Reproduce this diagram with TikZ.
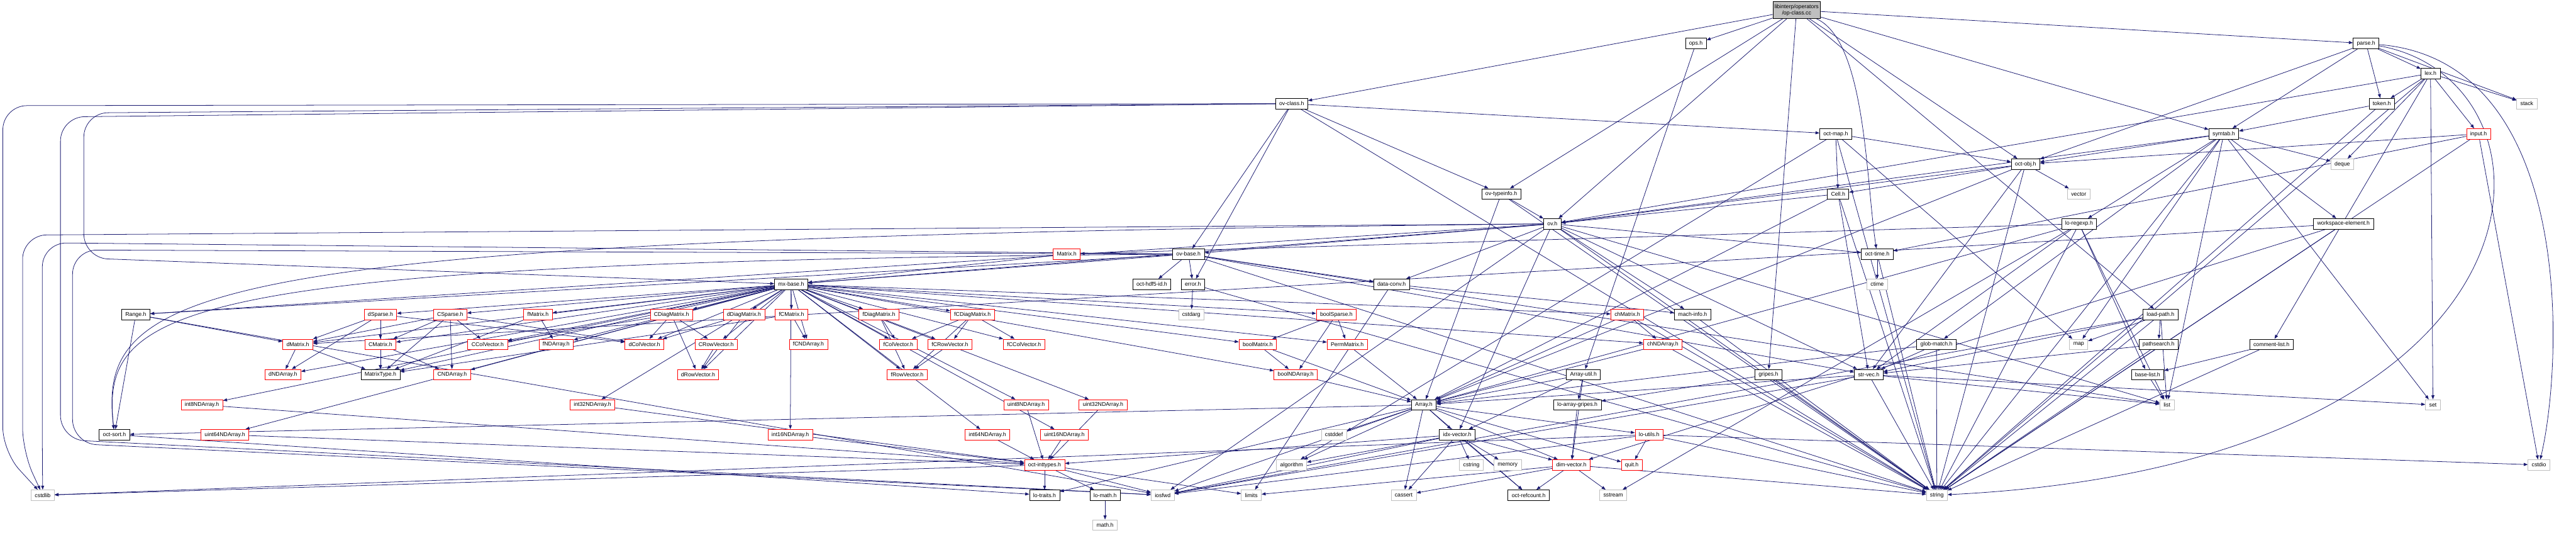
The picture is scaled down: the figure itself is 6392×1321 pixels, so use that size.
\documentclass[tikz,border=0pt]{standalone}
\usepackage{fontspec}
\setmainfont{Liberation Sans}
\usepackage{xcolor}
\usepackage{tikz}
\usetikzlibrary{arrows.meta, backgrounds}
\definecolor{edgeblue}{HTML}{191970}
\definecolor{sysgray}{HTML}{BFBFBF}
\tikzset{
    dep/.style={draw=edgeblue, line width=1.2pt, -{Triangle[length=10pt, width=7.5pt]}},
    filebox/.style={draw, rectangle, line width=1.2pt, fill=white, font=\fontsize{13.7}{16}\selectfont, minimum height=26pt, inner xsep=9.2pt, inner ysep=2pt},
    redbox/.style={filebox, draw=red},
    sysbox/.style={filebox, draw=sysgray},
    rootbox/.style={filebox, fill=sysgray, align=center, minimum height=41pt, inner xsep=4pt}
}

\begin{document}
\begin{tikzpicture}[x=1pt, y=-1pt]
    \useasboundingbox (0,0) rectangle (6392,1321);

    \node (root) [rootbox] at (4458,25) {libinterp/operators\\/op-class.cc};
    \node (ops) [filebox] at (4208,108) {ops.h};
    \node (parse) [filebox] at (5871,108) {parse.h};
    \node (lex) [filebox] at (6031,182) {lex.h};
    \node (ovclass) [filebox] at (3205,257) {ov-class.h};
    \node (token) [filebox] at (5910,257) {token.h};
    \node (stack) [sysbox] at (6270,257) {stack};
    \node (octmap) [filebox] at (4555,332) {oct-map.h};
    \node (symtab) [filebox] at (5518,332) {symtab.h};
    \node (input) [redbox] at (6150,332) {input.h};
    \node (octobj) [filebox] at (5026,407) {oct-obj.h};
    \node (deque) [sysbox] at (5812,407) {deque};
    \node (ovtypeinfo) [filebox] at (3725,481) {ov-typeinfo.h};
    \node (cell) [filebox] at (4561,481) {Cell.h};
    \node (vector) [sysbox] at (5158,481) {vector};
    \node (ov) [filebox] at (3852,555) {ov.h};
    \node (loregexp) [filebox] at (5159,555) {lo-regexp.h};
    \node (wselem) [filebox] at (5815,555) {workspace-element.h};
    \node (matrix) [redbox] at (2647,630) {Matrix.h};
    \node (ovbase) [filebox] at (2949,630) {ov-base.h};
    \node (octtime) [filebox] at (4658,630) {oct-time.h};
    \node (mxbase) [filebox] at (1963,705) {mx-base.h};
    \node (hdfid) [filebox] at (2858,705) {oct-hdf5-id.h};
    \node (error) [filebox] at (2960,705) {error.h};
    \node (dataconv) [filebox] at (3453,705) {data-conv.h};
    \node (ctime) [sysbox] at (4658,705) {ctime};
    \node (range) [filebox] at (337,780) {Range.h};
    \node (dsparse) [redbox] at (944,780) {dSparse.h};
    \node (csparse) [redbox] at (1117,780) {CSparse.h};
    \node (fmatrix) [redbox] at (1335,780) {fMatrix.h};
    \node (cdiag) [redbox] at (1666,780) {CDiagMatrix.h};
    \node (ddiag) [redbox] at (1846,780) {dDiagMatrix.h};
    \node (fcmatrix) [redbox] at (1964,780) {fCMatrix.h};
    \node (fdiag) [redbox] at (2181,780) {fDiagMatrix.h};
    \node (fcdiag) [redbox] at (2413,780) {fCDiagMatrix.h};
    \node (cstdarg) [sysbox] at (2956,780) {cstdarg};
    \node (boolsparse) [redbox] at (3316,780) {boolSparse.h};
    \node (chmatrix) [redbox] at (4038,780) {chMatrix.h};
    \node (machinfo) [filebox] at (4200,780) {mach-info.h};
    \node (loadpath) [filebox] at (5361,780) {load-path.h};
    \node (dmatrix) [redbox] at (739,854) {dMatrix.h};
    \node (cmatrix) [redbox] at (944,854) {CMatrix.h};
    \node (ccolvec) [redbox] at (1210,854) {CColVector.h};
    \node (fndarray) [redbox] at (1380,854) {fNDArray.h};
    \node (dcolvec) [redbox] at (1599,854) {dColVector.h};
    \node (crowvec) [redbox] at (1777,854) {CRowVector.h};
    \node (fcndarray) [redbox] at (2006,854) {fCNDArray.h};
    \node (fcolvec) [redbox] at (2229,854) {fColVector.h};
    \node (fcrowvec) [redbox] at (2357,854) {fCRowVector.h};
    \node (fccolvec) [redbox] at (2541,854) {fCColVector.h};
    \node (boolmatrix) [redbox] at (3121,854) {boolMatrix.h};
    \node (permmatrix) [redbox] at (3343,854) {PermMatrix.h};
    \node (chndarray) [redbox] at (4126,854) {chNDArray.h};
    \node (globmatch) [filebox] at (4805,854) {glob-match.h};
    \node (map) [sysbox] at (5158,854) {map};
    \node (pathsearch) [filebox] at (5356,854) {pathsearch.h};
    \node (commentlist) [filebox] at (5636,854) {comment-list.h};
    \node (dndarray) [redbox] at (702,929) {dNDArray.h};
    \node (matrixtype) [filebox] at (944,929) {MatrixType.h};
    \node (cndarray) [redbox] at (1122,929) {CNDArray.h};
    \node (drowvec) [redbox] at (1732,929) {dRowVector.h};
    \node (frowvec) [redbox] at (2251,929) {fRowVector.h};
    \node (boolndarray) [redbox] at (3215,929) {boolNDArray.h};
    \node (arrayutil) [filebox] at (3929,929) {Array-util.h};
    \node (gripes) [filebox] at (4388,929) {gripes.h};
    \node (strvec) [filebox] at (4637,929) {str-vec.h};
    \node (baselist) [filebox] at (5329,929) {base-list.h};
    \node (int8) [redbox] at (501,1004) {int8NDArray.h};
    \node (int32) [redbox] at (1470,1004) {int32NDArray.h};
    \node (uint8) [redbox] at (2546,1004) {uint8NDArray.h};
    \node (uint32) [redbox] at (2737,1004) {uint32NDArray.h};
    \node (array) [filebox] at (3533,1004) {Array.h};
    \node (loarraygripes) [filebox] at (3914,1004) {lo-array-gripes.h};
    \node (list) [sysbox] at (5377,1004) {list};
    \node (set) [sysbox] at (6037,1004) {set};
    \node (octsort) [filebox] at (284,1078) {oct-sort.h};
    \node (uint64) [redbox] at (558,1078) {uint64NDArray.h};
    \node (int16) [redbox] at (1961,1078) {int16NDArray.h};
    \node (int64) [redbox] at (2450,1078) {int64NDArray.h};
    \node (uint16) [redbox] at (2641,1078) {uint16NDArray.h};
    \node (cstddef) [sysbox] at (3310,1078) {cstddef};
    \node (idxvector) [filebox] at (3616,1078) {idx-vector.h};
    \node (loutils) [redbox] at (4092,1078) {lo-utils.h};
    \node (inttypes) [redbox] at (2592,1153) {oct-inttypes.h};
    \node (algorithm) [sysbox] at (3205,1153) {algorithm};
    \node (cstring) [sysbox] at (3651,1153) {cstring};
    \node (memory) [sysbox] at (3741,1153) {memory};
    \node (dimvector) [redbox] at (3899,1153) {dim-vector.h};
    \node (quit) [redbox] at (4049,1153) {quit.h};
    \node (cstdio) [sysbox] at (6300,1153) {cstdio};
    \node (cstdlib) [sysbox] at (106,1228) {cstdlib};
    \node (lotraits) [filebox] at (2592,1228) {lo-traits.h};
    \node (lomath) [filebox] at (2742,1228) {lo-math.h};
    \node (iosfwd) [sysbox] at (2885,1228) {iosfwd};
    \node (limits) [sysbox] at (3105,1228) {limits};
    \node (cassert) [sysbox] at (3483,1228) {cassert};
    \node (refcount) [filebox] at (3793,1228) {oct-refcount.h};
    \node (sstream) [sysbox] at (4003,1228) {sstream};
    \node (string) [sysbox] at (4806,1228) {string};
    \node (mathh) [sysbox] at (2742,1302) {math.h};

    \begin{scope}[on background layer]
    \draw [dep] (root) -- (ops);
    \draw [dep] (root) -- (parse);
    \draw [dep] (root) -- (ovclass);
    \draw [dep] (root) -- (ovtypeinfo);
    \draw [dep] (root) -- (ov);
    \draw [dep] (root) .. controls (4630,100) and (4630,450) .. (octtime);
    \draw [dep] (root) -- (octobj);
    \draw [dep] (root) -- (loadpath);
    \draw [dep] (root) -- (symtab);
    \draw [dep] (root) -- (gripes);
    \draw [dep] (ops) -- (arrayutil);

    \draw [dep] (parse) -- (lex);
    \draw [dep] (parse) -- (token);
    \draw [dep] (parse) -- (stack);
    \draw [dep] (parse) -- (symtab);
    \draw [dep] (parse) -- (octobj);
    \draw [dep] (parse) .. controls (6392,150) and (6360,900) .. (cstdio);
    \draw [dep] (parse) .. controls (6392,200) and (6380,1150) .. (string);
    \draw [dep] (lex) -- (token);
    \draw [dep] (lex) -- (stack);
    \draw [dep] (lex) -- (input);
    \draw [dep] (lex) -- (deque);
    \draw [dep] (lex) -- (commentlist);
    \draw [dep] (lex) -- (set);
    \draw [dep] (lex) -- (string);
    \draw [dep] (lex) -- (ov);
    \draw [dep] (input) -- (octobj);
    \draw [dep] (input) -- (octtime);
    \draw [dep] (input) -- (cstdio);
    \draw [dep] (input) -- (string);
    \draw [dep] (token) -- (symtab);
    \draw [dep] (token) -- (string);
    \draw [dep] (symtab) -- (deque);
    \draw [dep] (symtab) -- (octobj);
    \draw [dep] (symtab) -- (loregexp);
    \draw [dep] (symtab) -- (wselem);
    \draw [dep] (symtab) -- (ov);
    \draw [dep] (symtab) -- (globmatch);
    \draw [dep] (symtab) -- (map);
    \draw [dep] (symtab) -- (list);
    \draw [dep] (symtab) -- (set);
    \draw [dep] (symtab) -- (string);
    \draw [dep] (octmap) -- (cell);
    \draw [dep] (octmap) -- (octobj);
    \draw [dep] (octmap) -- (map);
    \draw [dep] (octmap) -- (algorithm);
    \draw [dep] (octmap) -- (string);
    \draw [dep] (octobj) -- (cell);
    \draw [dep] (octobj) -- (vector);
    \draw [dep] (octobj) -- (ov);
    \draw [dep] (octobj) -- (strvec);
    \draw [dep] (octobj) -- (array);
    \draw [dep] (octobj) -- (string);
    \draw [dep] (cell) -- (ov);
    \draw [dep] (cell) -- (array);
    \draw [dep] (cell) -- (strvec);
    \draw [dep] (cell) -- (string);
    \draw [dep] (ovtypeinfo) -- (ov);
    \draw [dep] (ovtypeinfo) -- (array);
    \draw [dep] (ovtypeinfo) -- (string);

    \draw [dep] (ovclass) -- (ovbase);
    \draw [dep] (ovclass) -- (ovtypeinfo);
    \draw [dep] (ovclass) -- (octmap);
    \draw [dep] (ovclass) -- (error);
    \draw [dep, rounded corners=60pt] (ovclass) -- (208,280) -- (208,640) -- (mxbase);
    \draw [dep, rounded corners=60pt] (ovclass) -- (7,262) -- (7,1120) -- (cstdlib);
    \draw [dep, rounded corners=60pt] (ovclass) -- (150,290) -- (150,1090) -- (iosfwd);
    \draw [dep] (ovclass) -- (string);
    \draw [dep] (ov) -- (ovbase);
    \draw [dep] (ov) -- (range);
    \draw [dep] (ov) -- (dataconv);
    \draw [dep] (ov) -- (idxvector);
    \draw [dep] (ov) -- (machinfo);
    \draw [dep] (ov) -- (mxbase);
    \draw [dep] (ov) -- (octtime);
    \draw [dep] (ov) -- (strvec);
    \draw [dep] (ov) .. controls (500,590) and (240,700) .. (octsort);
    \draw [dep, rounded corners=60pt] (ov) -- (56,583) -- (56,1120) -- (cstdlib);
    \draw [dep] (ov) -- (iosfwd);
    \draw [dep] (ov) -- (string);
    \draw [dep] (ov) -- (list);
    \draw [dep] (ovbase) -- (mxbase);
    \draw [dep] (ovbase) -- (range);
    \draw [dep] (ovbase) -- (dataconv);
    \draw [dep] (ovbase) -- (strvec);
    \draw [dep] (ovbase) -- (error);
    \draw [dep] (ovbase) -- (hdfid);
    \draw [dep, rounded corners=60pt] (ovbase) -- (105,602) -- (105,1120) -- (cstdlib);
    \draw [dep, rounded corners=60pt] (ovbase) -- (180,620) -- (180,1100) -- (iosfwd);
    \draw [dep] (ovbase) -- (list);
    \draw [dep] (ovbase) -- (string);
    \draw [dep] (ovbase) .. controls (420,650) and (250,760) .. (octsort);

    \draw [dep] (loregexp) -- (array);
    \draw [dep] (loregexp) -- (matrix);
    \draw [dep] (loregexp) -- (baselist);
    \draw [dep] (loregexp) -- (strvec);
    \draw [dep] (loregexp) -- (list);
    \draw [dep] (loregexp) -- (sstream);
    \draw [dep] (loregexp) -- (string);
    \draw [dep] (wselem) -- (dmatrix);
    \draw [dep] (wselem) -- (dimvector);
    \draw [dep] (wselem) -- (string);
    \draw [dep] (octtime) -- (ctime);
    \draw [dep] (octtime) -- (string);
    \draw [dep] (loadpath) -- (map);
    \draw [dep] (loadpath) -- (pathsearch);
    \draw [dep] (loadpath) -- (strvec);
    \draw [dep] (loadpath) -- (list);
    \draw [dep] (loadpath) -- (string);
    \draw [dep] (loadpath) -- (iosfwd);
    \draw [dep] (pathsearch) -- (strvec);
    \draw [dep] (pathsearch) -- (string);
    \draw [dep] (commentlist) -- (baselist);
    \draw [dep] (commentlist) -- (string);
    \draw [dep] (globmatch) -- (strvec);
    \draw [dep] (globmatch) -- (string);
    \draw [dep] (globmatch) -- (array);
    \draw [dep] (gripes) -- (loarraygripes);
    \draw [dep] (gripes) -- (string);
    \draw [dep] (strvec) -- (array);
    \draw [dep] (strvec) -- (list);
    \draw [dep] (strvec) -- (set);
    \draw [dep] (strvec) -- (string);
    \draw [dep] (strvec) -- (iosfwd);
    \draw [dep] (baselist) -- (list);
    \draw [dep] (machinfo) -- (string);
    \draw [dep] (dataconv) -- (limits);
    \draw [dep] (dataconv) -- (machinfo);
    \draw [dep] (error) -- (cstdarg);
    \draw [dep] (error) -- (string);
    \draw [dep] (matrix) -- (mxbase);
    \draw [dep] (range) -- (dmatrix);
    \draw [dep] (range) -- (octsort);
    \draw [dep] (range) -- (iosfwd);
    \draw [dep] (octsort) -- (lotraits);

    \draw [dep] (mxbase) -- (matrixtype);
    \draw [dep] (mxbase) -- (boolmatrix);
    \draw [dep] (mxbase) -- (chmatrix);
    \draw [dep] (mxbase) -- (dmatrix);
    \draw [dep] (mxbase) -- (cmatrix);
    \draw [dep] (mxbase) -- (fmatrix);
    \draw [dep] (mxbase) -- (fcmatrix);
    \draw [dep] (mxbase) -- (dcolvec);
    \draw [dep] (mxbase) -- (ccolvec);
    \draw [dep] (mxbase) -- (fcolvec);
    \draw [dep] (mxbase) -- (fccolvec);
    \draw [dep] (mxbase) -- (drowvec);
    \draw [dep] (mxbase) -- (crowvec);
    \draw [dep] (mxbase) -- (frowvec);
    \draw [dep] (mxbase) -- (fcrowvec);
    \draw [dep] (mxbase) -- (ddiag);
    \draw [dep] (mxbase) -- (cdiag);
    \draw [dep] (mxbase) -- (fdiag);
    \draw [dep] (mxbase) -- (fcdiag);
    \draw [dep] (mxbase) -- (boolsparse);
    \draw [dep] (mxbase) -- (dsparse);
    \draw [dep] (mxbase) -- (csparse);
    \draw [dep] (mxbase) -- (boolndarray);
    \draw [dep] (mxbase) -- (chndarray);
    \draw [dep] (mxbase) -- (dndarray);
    \draw [dep] (mxbase) -- (cndarray);
    \draw [dep] (mxbase) -- (fndarray);
    \draw [dep] (mxbase) -- (fcndarray);
    \draw [dep] (mxbase) -- (int8);
    \draw [dep] (mxbase) -- (int16);
    \draw [dep] (mxbase) -- (int32);
    \draw [dep] (mxbase) -- (int64);
    \draw [dep] (mxbase) -- (uint8);
    \draw [dep] (mxbase) -- (uint16);
    \draw [dep] (mxbase) -- (uint32);
    \draw [dep] (mxbase) -- (uint64);
    \draw [dep] (mxbase) -- (permmatrix);

    \draw [dep] (dsparse) -- (dmatrix);
    \draw [dep] (dsparse) -- (cmatrix);
    \draw [dep] (dsparse) -- (matrixtype);
    \draw [dep] (dsparse) -- (dndarray);
    \draw [dep] (dsparse) -- (dcolvec);
    \draw [dep] (csparse) -- (dmatrix);
    \draw [dep] (csparse) -- (cmatrix);
    \draw [dep] (csparse) -- (matrixtype);
    \draw [dep] (csparse) -- (cndarray);
    \draw [dep] (csparse) -- (ccolvec);
    \draw [dep] (csparse) -- (dcolvec);
    \draw [dep] (dmatrix) -- (dndarray);
    \draw [dep] (dmatrix) -- (matrixtype);
    \draw [dep] (cmatrix) -- (matrixtype);
    \draw [dep] (cmatrix) -- (cndarray);
    \draw [dep] (fmatrix) -- (fndarray);
    \draw [dep] (fmatrix) -- (matrixtype);
    \draw [dep] (fcmatrix) -- (fcndarray);
    \draw [dep] (fcmatrix) -- (matrixtype);
    \draw [dep] (cdiag) -- (ccolvec);
    \draw [dep] (cdiag) -- (dcolvec);
    \draw [dep] (cdiag) -- (crowvec);
    \draw [dep] (cdiag) -- (drowvec);
    \draw [dep] (ddiag) -- (dcolvec);
    \draw [dep] (ddiag) -- (drowvec);
    \draw [dep] (fdiag) -- (fcolvec);
    \draw [dep] (fdiag) -- (frowvec);
    \draw [dep] (fcdiag) -- (fcolvec);
    \draw [dep] (fcdiag) -- (fcrowvec);
    \draw [dep] (fcdiag) -- (fccolvec);
    \draw [dep] (fcdiag) -- (frowvec);
    \draw [dep] (crowvec) -- (drowvec);
    \draw [dep] (fcrowvec) -- (frowvec);
    \draw [dep] (boolsparse) -- (boolmatrix);
    \draw [dep] (boolsparse) -- (boolndarray);
    \draw [dep] (boolsparse) -- (permmatrix);
    \draw [dep] (boolmatrix) -- (boolndarray);
    \draw [dep] (boolmatrix) -- (array);
    \draw [dep] (boolndarray) -- (array);
    \draw [dep] (permmatrix) -- (array);
    \draw [dep] (chmatrix) -- (chndarray);
    \draw [dep] (chmatrix) -- (array);
    \draw [dep] (chmatrix) -- (string);
    \draw [dep] (chndarray) -- (array);
    \draw [dep] (chndarray) -- (string);

    \draw [dep] (int8) -- (inttypes);
    \draw [dep] (int16) -- (inttypes);
    \draw [dep] (int32) -- (inttypes);
    \draw [dep] (int64) -- (inttypes);
    \draw [dep] (uint8) -- (inttypes);
    \draw [dep] (uint16) -- (inttypes);
    \draw [dep] (uint32) -- (inttypes);
    \draw [dep] (uint64) -- (inttypes);

    \draw [dep] (arrayutil) -- (array);
    \draw [dep] (arrayutil) -- (dimvector);
    \draw [dep] (arrayutil) -- (idxvector);
    \draw [dep] (arrayutil) -- (loarraygripes);
    \draw [dep] (loarraygripes) -- (dimvector);
    \draw [dep] (array) -- (cassert);
    \draw [dep] (array) -- (cstddef);
    \draw [dep] (array) -- (algorithm);
    \draw [dep] (array) -- (iosfwd);
    \draw [dep] (array) -- (dimvector);
    \draw [dep] (array) -- (idxvector);
    \draw [dep] (array) -- (lotraits);
    \draw [dep] (array) -- (loutils);
    \draw [dep] (array) -- (octsort);
    \draw [dep] (array) -- (quit);
    \draw [dep] (array) -- (refcount);
    \draw [dep] (idxvector) -- (cassert);
    \draw [dep] (idxvector) -- (cstring);
    \draw [dep] (idxvector) -- (algorithm);
    \draw [dep] (idxvector) -- (iosfwd);
    \draw [dep] (idxvector) -- (memory);
    \draw [dep] (idxvector) -- (dimvector);
    \draw [dep] (idxvector) -- (inttypes);
    \draw [dep] (idxvector) -- (refcount);
    \draw [dep] (dimvector) -- (cassert);
    \draw [dep] (dimvector) -- (limits);
    \draw [dep] (dimvector) -- (sstream);
    \draw [dep] (dimvector) -- (string);
    \draw [dep] (dimvector) -- (refcount);
    \draw [dep] (loutils) -- (quit);
    \draw [dep] (loutils) -- (cstdio);
    \draw [dep] (loutils) -- (iosfwd);
    \draw [dep] (loutils) -- (string);
    \draw [dep] (loutils) -- (cstdlib);
    \draw [dep] (inttypes) -- (lotraits);
    \draw [dep] (inttypes) -- (lomath);
    \draw [dep] (inttypes) -- (iosfwd);
    \draw [dep] (inttypes) -- (limits);
    \draw [dep] (inttypes) -- (cstdlib);
    \draw [dep] (lomath) -- (mathh);
    \end{scope}
\end{tikzpicture}
\end{document}
